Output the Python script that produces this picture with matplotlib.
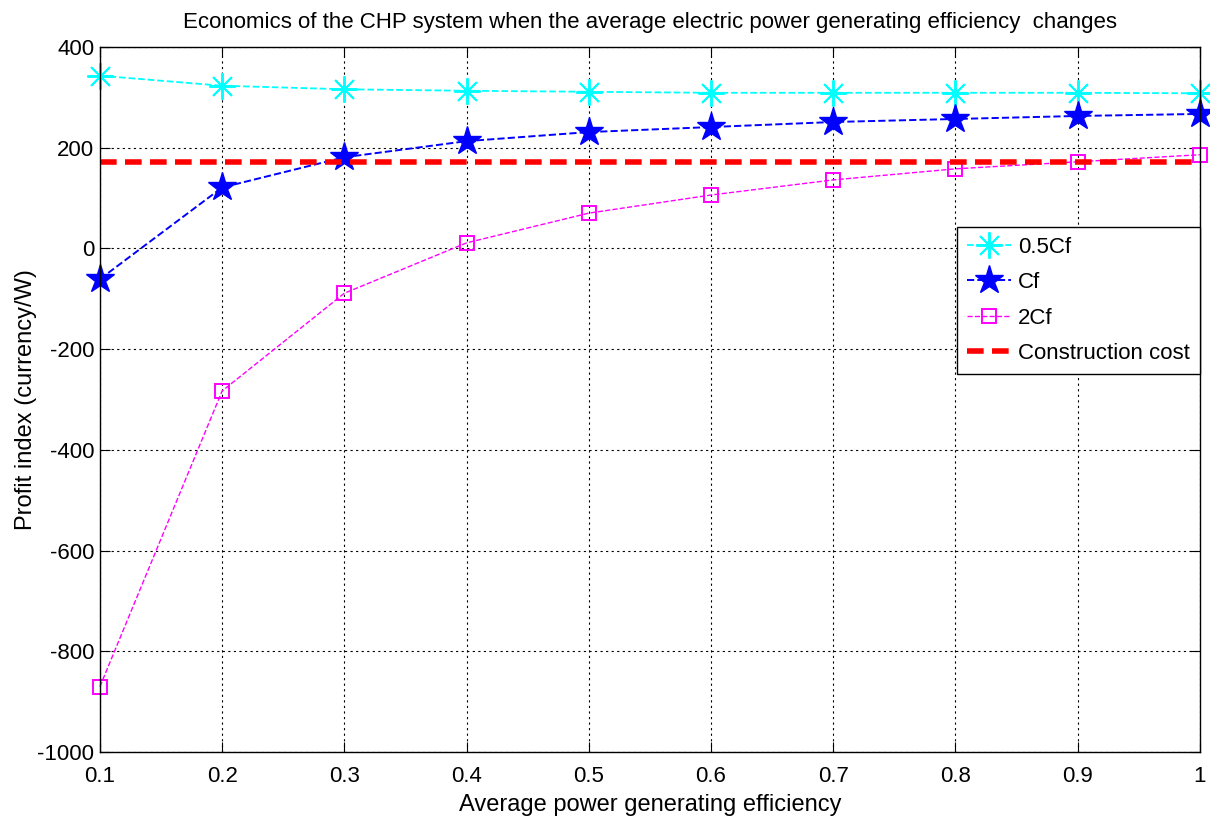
import matplotlib.pyplot as plt

plt.rcParams['font.family'] = ['Liberation Sans', 'DejaVu Sans']
plt.rcParams['axes.unicode_minus'] = False

efficiency = [0.1, 0.2, 0.3, 0.4, 0.5, 0.6, 0.7, 0.8, 0.9, 1.0]
half_cf = [343, 323, 316, 313, 311, 309, 309, 309, 309, 308]
cf = [-61, 121, 181, 213, 231, 241, 251, 257, 263, 267]
double_cf = [-870, -283, -89, 11, 70, 106, 136, 158, 172, 186]
construction_cost = 172

dpi = 100
fig = plt.figure(figsize=(1210 / dpi, 824 / dpi), dpi=dpi)
ax = fig.add_axes([0.0826, 0.0874, 0.909, 0.8556])

ax.plot(efficiency, half_cf, color='cyan', linestyle='--', linewidth=1.3, clip_on=False,
        marker=(8, 2, 0), markersize=19, markeredgewidth=1.4, label='0.5Cf')
ax.plot(efficiency, cf, color='blue', linestyle='--', linewidth=1.4, clip_on=False,
        marker='*', markersize=21, label='Cf')
ax.plot(efficiency, double_cf, color='magenta', linestyle='--', linewidth=1.0, clip_on=False,
        marker='s', markersize=10, markerfacecolor='none', markeredgewidth=1.4, label='2Cf')
ax.plot(efficiency, [construction_cost] * len(efficiency), color='red', linestyle='--',
        linewidth=4, dashes=(3, 1.5), label='Construction cost')

ax.set_xlim(0.1, 1.0)
ax.set_ylim(-1000, 400)
ax.set_xticks(efficiency)
ax.set_xticklabels(['0.1', '0.2', '0.3', '0.4', '0.5', '0.6', '0.7', '0.8', '0.9', '1'])
ax.set_yticks(range(-1000, 401, 200))
ax.tick_params(direction='in', length=7, labelsize=16, top=True, right=True)
ax.tick_params(axis='x', pad=10)
ax.tick_params(axis='y', pad=4)
ax.grid(True, color='black', linestyle=(0, (2, 3)), linewidth=0.8)
for s in ax.spines.values():
    s.set_linewidth(1.0)

ax.set_title('Economics of the CHP system when the average electric power generating efficiency  changes',
             fontsize=16, pad=14)
ax.set_xlabel('Average power generating efficiency', fontsize=17, labelpad=5)
ax.set_ylabel('Profit index (currency/W)', fontsize=17, labelpad=0)

leg = ax.legend(loc='upper right', bbox_to_anchor=(1.0, 0.745), fontsize=16, fancybox=False,
                framealpha=1, edgecolor='black', borderaxespad=0, handlelength=2.0,
                labelspacing=0.65, handletextpad=0.3, borderpad=0.45)
leg.get_frame().set_linewidth(1.0)

plt.savefig('out.png', dpi=dpi)
plt.close()
